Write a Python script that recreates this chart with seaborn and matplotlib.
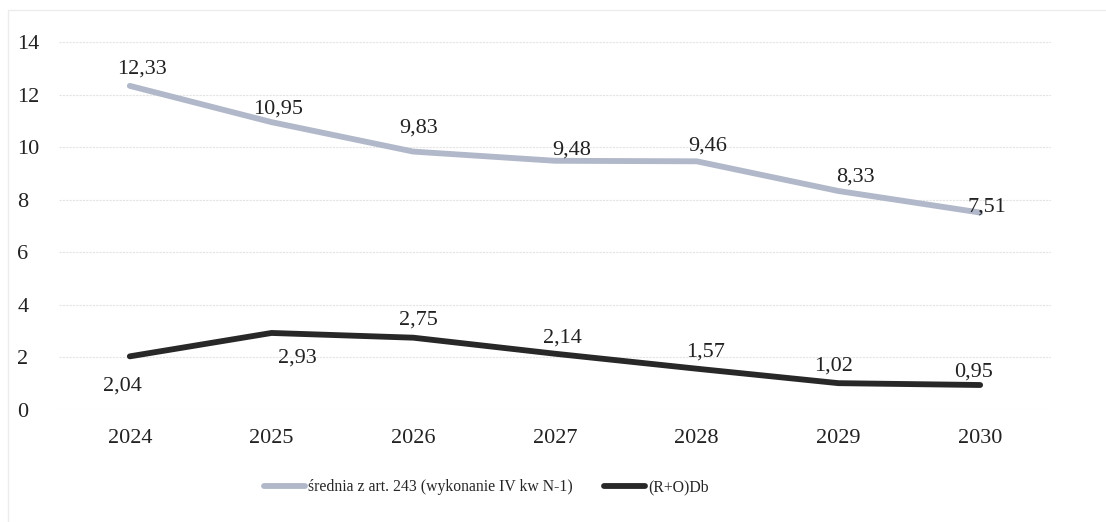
import matplotlib
matplotlib.use("Agg")
import matplotlib.pyplot as plt
from matplotlib.lines import Line2D
import seaborn as sns
import pandas as pd

years = ["2024", "2025", "2026", "2027", "2028", "2029", "2030"]
srednia = [12.33, 10.95, 9.83, 9.48, 9.46, 8.33, 7.51]
rodb = [2.04, 2.93, 2.75, 2.14, 1.57, 1.02, 0.95]
series_names = ["średnia z art. 243 (wykonanie IV kw N-1)", "(R+O)Db"]
yticks = [0, 2, 4, 6, 8, 10, 12, 14]

# --- style ---
colors = ["#b0b8c9", "#282828"]
# label offsets (dx, dy) in pixels relative to the point (baseline of text)
grey_offsets = [(12, 12), (7, 9), (5, 19), (17, 6), (11, 11), (17, 9), (7, 1)]
black_offsets = [(-7, -34), (26, -30), (5, 13), (7, 11), (9, 12), (-5, 13), (-7, 8)]
PX2PT = 0.72

df = pd.DataFrame({
    "year": years * 2,
    "value": srednia + rodb,
    "series": [series_names[0]] * len(years) + [series_names[1]] * len(years),
})

sns.set_theme(style="white")
plt.rcParams["font.family"] = ["Liberation Serif", "DejaVu Serif"]

fig = plt.figure(figsize=(11.06, 5.22), dpi=100)
ax = fig.add_axes([0.0533, 0.2146, 0.897, 0.705])

sns.lineplot(data=df, x="year", y="value", hue="series", palette=colors,
             linewidth=4.2, ax=ax, legend=False, sort=False)
for ln in ax.get_lines():
    ln.set_solid_capstyle("round")
    ln.set_solid_joinstyle("round")

ax.set_xlim(-0.5, len(years) - 0.5)
ax.set_ylim(0, 14)
ax.set_yticks(yticks)
ax.set_yticklabels([str(t) for t in yticks], fontsize=16, color="#222222")
ax.tick_params(axis="x", labelsize=16, colors="#222222", pad=14, length=0)
ax.tick_params(axis="y", pad=30, length=0)
for lab in ax.get_yticklabels():
    lab.set_horizontalalignment("left")
ax.set_xlabel("")
ax.set_ylabel("")
ax.grid(axis="y", color="#e4e4e4", linewidth=0.8, linestyle=(0, (2, 1)))
for s in ax.spines.values():
    s.set_visible(False)


def fmt(v):
    return f"{v:.2f}".replace(".", ",")


for vals, offs in ((srednia, grey_offsets), (rodb, black_offsets)):
    for i, v in enumerate(vals):
        dx, dy = offs[i]
        ax.annotate(fmt(v), (i, v), xytext=(dx * PX2PT, dy * PX2PT),
                    textcoords="offset points", ha="center", va="baseline",
                    fontsize=16, color="#222222")

handles = [Line2D([0], [0], color=c, linewidth=4.2, solid_capstyle="round") for c in colors]
fig.legend(handles, series_names, loc="center", bbox_to_anchor=(0.44, 0.067),
           ncol=2, frameon=False, fontsize=11.3, handlelength=2.6,
           handletextpad=0.2, columnspacing=2.0)

# faint scan frame
fig.add_artist(Line2D([0.007, 0.007], [0.0, 0.98], color="#ececec", linewidth=1))
fig.add_artist(Line2D([0.007, 1.0], [0.98, 0.98], color="#ececec", linewidth=1))

fig.savefig("out.png", dpi=100)
